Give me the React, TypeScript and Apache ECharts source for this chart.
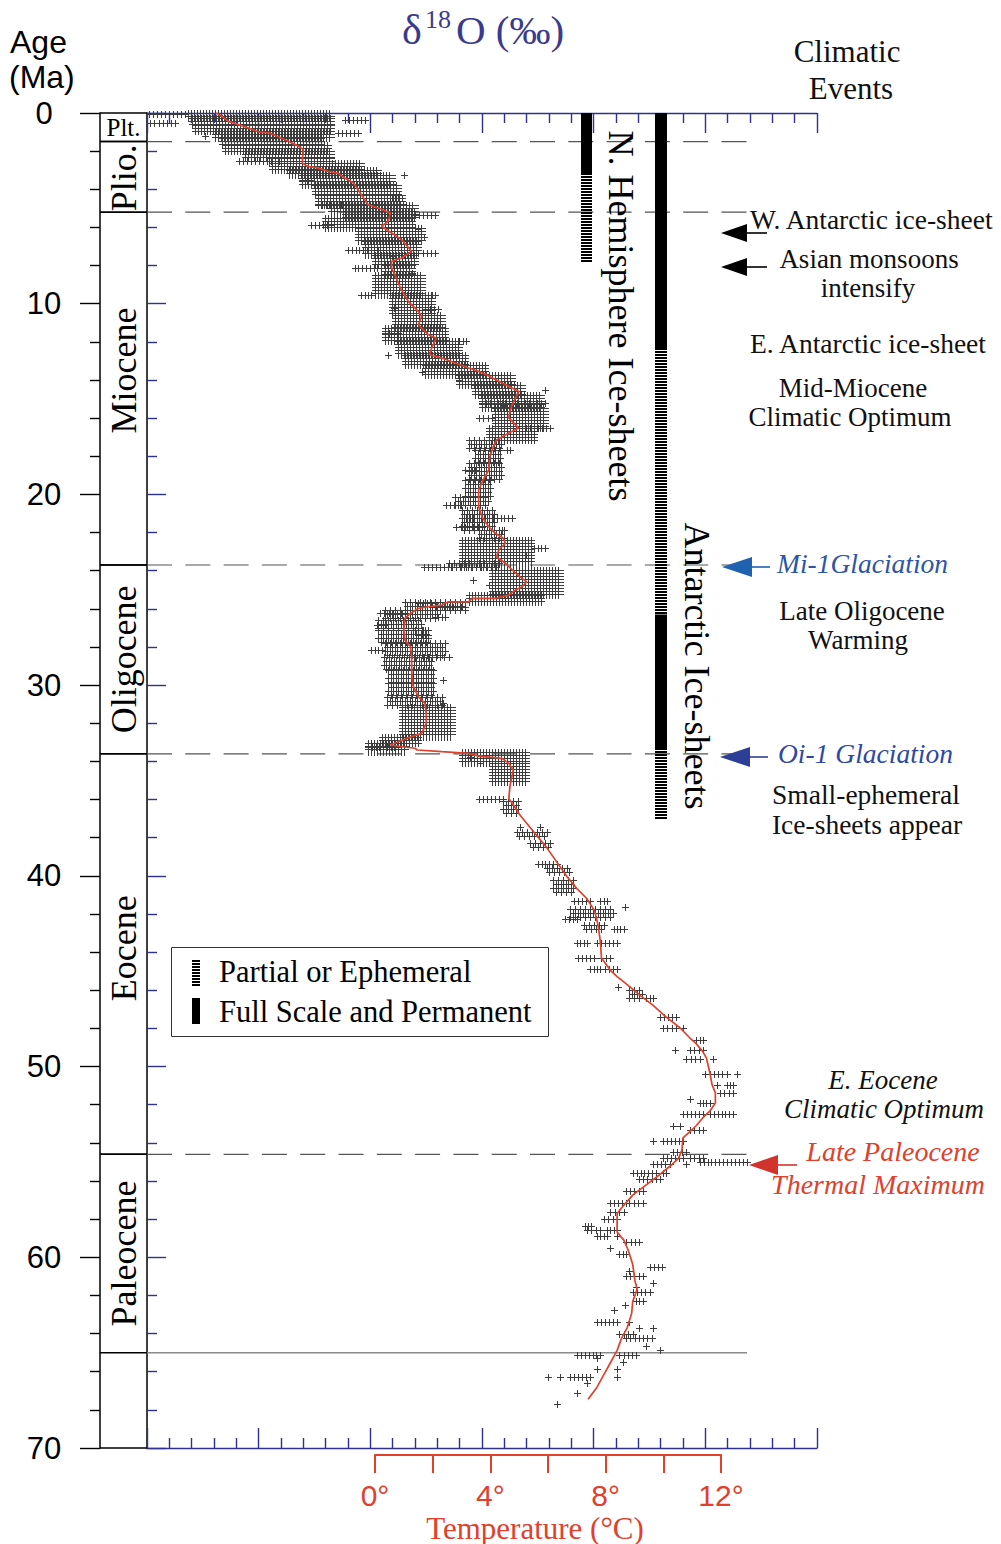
import React, { useEffect, useRef } from 'react';
import * as echarts from 'echarts';

// ---------------- data ----------------
const ageTickLabels = [0, 10, 20, 30, 40, 50, 60, 70];
const tempTickLabels = [0, 4, 8, 12];

const epochNames = ['Plt.', 'Plio.', 'Miocene', 'Oligocene', 'Eocene', 'Paleocene'];
const epochBounds = [0, 1.5, 5.2, 23.7, 33.6, 54.6, 65];
const epochLabelAt = [0.75, 3.4, 13.5, 28.65, 43.8, 59.8];

// smoothed (red) curve: [age Ma, d18O permil]
const smoothCurve: number[][] = [
  [0.0, 4.38], [0.09, 4.35], [0.44, 4.27], [0.61, 4.18], [0.79, 4.09], [1.0, 4.0], [1.05, 3.9], [1.28, 3.81],
  [1.49, 3.73], [1.75, 3.64], [1.92, 3.6], [2.62, 3.61], [2.8, 3.56], [2.88, 3.47], [3.06, 3.38], [3.15, 3.29],
  [3.41, 3.23], [3.67, 3.15], [4.02, 3.11], [4.46, 3.06], [4.81, 3.02], [4.98, 2.93], [5.24, 2.82], [5.68, 2.84],
  [5.94, 2.9], [6.29, 2.81], [6.64, 2.72], [7.25, 2.63], [7.6, 2.72], [7.78, 2.81], [8.13, 2.81], [8.48, 2.78],
  [9.18, 2.73], [9.88, 2.66], [10.4, 2.57], [10.66, 2.54], [11.1, 2.57], [11.63, 2.48], [11.8, 2.41], [12.32, 2.45],
  [12.67, 2.47], [12.85, 2.36], [13.11, 2.24], [13.37, 2.12], [13.55, 2.03], [13.72, 1.96], [14.07, 1.85], [14.42, 1.73],
  [14.6, 1.67], [15.3, 1.73], [15.64, 1.75], [15.99, 1.76], [16.52, 1.67], [16.78, 1.76], [17.15, 1.87], [17.5, 1.9],
  [18.02, 1.93], [18.72, 1.94], [19.25, 1.99], [19.77, 2.03], [20.64, 2.03], [21.17, 2.0], [21.69, 1.94], [22.04, 1.88],
  [22.3, 1.81], [22.56, 1.79], [22.92, 1.85], [23.27, 1.87], [23.61, 1.79], [23.96, 1.73], [24.32, 1.66], [24.58, 1.6],
  [24.84, 1.64], [25.01, 1.7], [25.28, 1.76], [25.45, 1.88], [25.45, 2.09], [25.63, 2.12], [25.63, 2.3], [25.8, 2.36],
  [25.89, 2.48], [25.97, 2.57], [26.24, 2.64], [26.5, 2.69], [27.11, 2.7], [27.64, 2.69], [27.99, 2.64], [28.51, 2.63],
  [29.21, 2.63], [30.0, 2.62], [30.61, 2.57], [30.96, 2.51], [31.48, 2.5], [32.0, 2.5], [32.53, 2.54], [32.7, 2.63],
  [32.97, 2.75], [33.14, 2.82], [33.23, 2.72], [33.31, 2.6], [33.4, 2.58], [33.49, 2.36], [33.58, 2.12], [33.72, 2.03],
  [33.84, 1.82], [34.1, 1.76], [34.45, 1.72], [35.31, 1.75], [35.95, 1.76], [36.27, 1.72], [36.81, 1.66], [37.24, 1.6],
  [37.88, 1.51], [38.52, 1.42], [39.28, 1.33], [40.03, 1.24], [40.67, 1.15], [41.2, 1.06], [41.85, 0.99], [42.6, 0.96],
  [43.45, 0.94], [44.31, 0.93], [44.95, 0.85], [45.28, 0.79], [45.7, 0.7], [46.24, 0.59], [46.78, 0.47], [47.41, 0.35],
  [47.95, 0.23], [48.49, 0.14], [48.81, 0.08], [49.24, 0.02], [49.56, -0.01], [50.31, -0.04], [50.95, -0.06], [51.38, -0.09],
  [51.91, -0.09], [52.34, -0.04], [52.67, 0.02], [53.09, 0.08], [53.42, 0.14], [53.74, 0.2], [54.38, 0.21], [54.81, 0.24],
  [55.24, 0.32], [55.67, 0.41], [56.2, 0.53], [56.74, 0.65], [57.27, 0.73], [57.7, 0.79], [58.67, 0.79], [59.1, 0.73],
  [59.63, 0.69], [60.38, 0.65], [61.24, 0.63], [61.67, 0.61], [62.31, 0.65], [62.95, 0.66], [63.7, 0.7], [64.24, 0.75],
  [64.88, 0.79], [65.53, 0.85], [66.17, 0.91], [66.81, 0.97], [67.45, 1.05],
];

// densely sampled parts of the cloud: [age top, age bottom, d18O left, d18O right]
const denseRows: number[][] = [
  [0.0, 0.26, 4.63, 3.35], [0.26, 0.61, 4.6, 3.35], [0.61, 0.96, 4.57, 3.35], [0.96, 1.31, 4.39, 3.35],
  [1.31, 1.66, 4.33, 3.44], [1.66, 2.01, 4.3, 3.38], [2.01, 2.36, 4.12, 3.35], [2.36, 2.62, 3.91, 3.35],
  [2.62, 2.97, 3.88, 3.08], [2.97, 3.23, 3.73, 2.93], [3.23, 3.76, 3.61, 2.81], [3.76, 4.28, 3.5, 2.75],
  [4.28, 4.81, 3.47, 2.72], [4.81, 5.16, 3.35, 2.6], [5.16, 5.51, 3.23, 2.6], [5.51, 6.03, 3.41, 2.63],
  [6.03, 6.73, 3.11, 2.54], [6.73, 7.43, 3.05, 2.57], [7.43, 7.96, 2.96, 2.6], [7.96, 8.48, 2.87, 2.63],
  [8.48, 9.53, 2.96, 2.54], [9.53, 10.58, 2.81, 2.45], [10.58, 11.28, 2.78, 2.36], [11.28, 11.98, 2.87, 2.33],
  [11.98, 12.67, 2.75, 2.21], [12.67, 13.2, 2.69, 2.15], [13.2, 13.72, 2.51, 1.97], [13.72, 14.25, 2.21, 1.73],
  [14.25, 14.77, 2.06, 1.64], [14.77, 15.47, 2.0, 1.47], [15.47, 16.52, 1.88, 1.44], [16.52, 17.15, 1.94, 1.53],
  [22.39, 23.61, 2.18, 1.56], [23.96, 25.27, 1.91, 1.3], [25.27, 25.62, 2.12, 1.47],
  [31.13, 32.7, 2.72, 2.27], [32.7, 33.05, 2.9, 2.57], [33.05, 33.49, 3.02, 2.69],
  [33.49, 34.1, 2.18, 1.61], [34.1, 35.1, 1.91, 1.61],
];

// thinner parts of the cloud: [age top, age bottom, d18O left, d18O right]
const sparseRows: number[][] = [
  [17.15, 17.67, 2.12, 1.82], [17.67, 18.37, 2.06, 1.82], [18.37, 19.25, 2.12, 1.81], [19.25, 20.12, 2.15, 1.91],
  [20.12, 20.73, 2.24, 1.94], [20.82, 21.87, 2.18, 1.88], [21.87, 22.39, 2.03, 1.79], [23.61, 23.96, 2.3, 1.85],
  [25.62, 26.06, 2.69, 2.15], [26.06, 26.59, 2.87, 2.39], [26.59, 27.11, 2.93, 2.54], [27.11, 27.81, 2.93, 2.48],
  [27.81, 28.51, 2.87, 2.33], [28.51, 29.21, 2.88, 2.45], [29.21, 29.9, 2.84, 2.42], [29.9, 30.6, 2.84, 2.42],
  [30.6, 31.13, 2.85, 2.35],
  [36.1, 36.8, 1.81, 1.66], [37.7, 38.1, 1.69, 1.42], [38.3, 38.7, 1.57, 1.39], [39.6, 40.0, 1.42, 1.21],
  [40.2, 40.9, 1.36, 1.18], [41.74, 42.17, 1.21, 0.82], [42.6, 43.0, 1.09, 0.91], [46.0, 46.6, 0.68, 0.56],
];

// single rows of samples / isolated samples: [age, d18O left, d18O right]
const streaks: number[][] = [
  [0.05, 4.98, 4.66], [0.35, 3.23, 3.05], [0.55, 4.97, 4.75], [1.05, 3.29, 3.11], [1.2, 4.48, 4.48],
  [2.53, 4.18, 3.82], [3.23, 2.7, 2.7], [3.5, 3.61, 3.53], [4.46, 2.81, 2.72], [4.81, 3.47, 3.23],
  [5.33, 2.6, 2.42], [5.86, 3.53, 3.35], [6.1, 2.57, 2.57], [6.5, 2.57, 2.52], [7.17, 3.2, 2.93],
  [7.34, 2.57, 2.42], [7.5, 2.81, 2.81], [8.13, 3.14, 2.87], [8.4, 2.63, 2.63], [9.53, 3.08, 2.99],
  [9.53, 2.51, 2.42], [10.2, 2.79, 2.79], [10.3, 2.51, 2.39], [11.54, 2.87, 2.75], [11.97, 2.24, 2.14],
  [12.67, 2.84, 2.84], [12.67, 2.27, 2.21], [13.6, 2.54, 2.54], [14.0, 2.21, 2.21], [14.5, 1.44, 1.44],
  [15.2, 2.0, 1.44], [16.0, 2.03, 1.91], [16.5, 1.61, 1.39],
  [17.67, 1.78, 1.75], [18.72, 2.15, 2.06], [20.55, 2.32, 2.15], [21.25, 2.18, 1.73], [21.69, 2.23, 2.0],
  [21.87, 1.82, 1.82], [22.83, 1.53, 1.44], [23.18, 1.7, 1.61], [23.79, 2.52, 1.88], [24.49, 2.08, 2.08],
  [24.75, 1.94, 1.94], [25.71, 2.57, 2.42], [25.89, 2.45, 2.15], [26.24, 2.91, 2.69], [26.41, 2.42, 2.33],
  [26.85, 2.94, 2.87], [27.11, 2.6, 2.51], [27.37, 2.57, 2.48], [28.16, 2.99, 2.9], [28.51, 2.6, 2.3],
  [29.73, 2.35, 2.35], [30.95, 2.35, 2.35], [33.23, 3.02, 2.75], [33.75, 2.11, 2.11], [34.1, 2.02, 2.02],
  [35.95, 2.03, 1.81], [37.45, 1.66, 1.66], [37.45, 1.48, 1.48], [39.38, 1.5, 1.33], [41.3, 1.18, 1.03],
  [41.3, 0.94, 0.88], [41.63, 0.72, 0.72], [42.27, 1.26, 1.15], [42.8, 0.82, 0.73], [43.5, 1.15, 1.06],
  [43.5, 0.97, 0.79], [44.3, 1.14, 1.0], [44.3, 0.93, 0.85], [44.9, 1.03, 0.97], [44.9, 0.94, 0.79],
  [45.81, 0.78, 0.78], [46.4, 0.53, 0.47], [47.4, 0.41, 0.26], [48.0, 0.38, 0.26], [48.0, 0.2, 0.2],
  [48.6, 0.08, 0.02], [49.13, 0.27, 0.27], [49.13, 0.14, 0.02], [49.6, 0.17, 0.05], [49.6, -0.07, -0.07],
  [50.4, 0.0, -0.19], [50.4, -0.28, -0.28], [50.95, -0.1, -0.1], [50.95, -0.19, -0.25], [51.38, -0.13, -0.25],
  [51.7, 0.14, 0.14], [51.9, 0.05, -0.04], [52.5, 0.2, 0.02], [52.5, -0.04, -0.25], [53.1, 0.29, 0.29],
  [53.1, 0.23, 0.23], [53.3, 0.14, 0.02], [53.9, 0.47, 0.47], [53.9, 0.38, 0.2], [54.5, 0.29, 0.17],
  [54.8, 0.38, 0.2], [54.8, 0.14, 0.02], [55.02, 0.05, -0.37], [55.1, 0.47, 0.32], [55.1, 0.17, 0.17],
  [55.56, 0.65, 0.44], [55.56, 0.38, 0.35], [55.9, 0.59, 0.41], [56.5, 0.71, 0.56], [57.17, 0.85, 0.71],
  [57.17, 0.68, 0.56], [57.6, 0.85, 0.73], [58.0, 0.91, 0.79], [58.35, 1.08, 1.02], [58.56, 1.06, 0.94],
  [58.56, 0.88, 0.79], [58.9, 0.97, 0.88], [58.9, 0.79, 0.79], [59.2, 0.71, 0.59], [59.5, 0.85, 0.85],
  [59.85, 0.77, 0.71], [60.5, 0.5, 0.39], [60.7, 0.68, 0.68], [61.0, 0.71, 0.56], [61.35, 0.47, 0.47],
  [61.56, 0.62, 0.62], [61.8, 0.65, 0.5], [62.3, 0.62, 0.56], [62.5, 0.72, 0.72], [62.74, 0.82, 0.82],
  [63.4, 0.97, 0.79], [63.4, 0.68, 0.68], [63.7, 0.59, 0.59], [63.7, 0.47, 0.47], [64.0, 0.77, 0.65],
  [64.24, 0.71, 0.48], [64.67, 0.53, 0.53], [64.84, 0.41, 0.41], [65.1, 0.77, 0.62], [65.1, 1.15, 0.94],
  [65.3, 0.97, 0.97], [65.5, 0.74, 0.74], [65.85, 0.97, 0.97], [65.85, 0.79, 0.79], [66.3, 1.41, 1.41],
  [66.3, 1.3, 1.3], [66.3, 1.21, 1.03], [66.3, 0.79, 0.79], [66.6, 1.06, 1.06], [67.1, 1.15, 1.15],
  [67.67, 1.33, 1.33],
];

// ice-sheet bars: [lane (0 = N. Hemisphere, 1 = Antarctic), from Ma, to Ma, kind (0 full, 1 partial)]
const nhIce: number[][] = [[0, 0, 3.25, 0], [0, 3.25, 7.8, 1]];
const antIce: number[][] = [[1, 0, 12.43, 0], [1, 12.43, 26.3, 1], [1, 26.3, 33.4, 0], [1, 33.4, 37.0, 1]];

// ---------------- layout / style ----------------
const SERIF = '"Liberation Serif", "Times New Roman", Times, serif';
const SANS = '"Liberation Sans", Arial, Helvetica, sans-serif';
const NAVY = '#2e3192';
const TITLE_C = '#3b3b8e';
const RED = '#e0402c';
const CROSS_C = '#3c3c3c';
const GRID_L = 147, GRID_T = 113, GRID_W = 670, GRID_H = 1335;
const COL_L = 100;
const LINE_END = 747;
const ICE_LANES = [{ x: 581, w: 11 }, { x: 655, w: 12 }];
const ARM = 3.5;

const snap = (v: number) => Math.round(v) + 0.5;
const crossD = (x: number, y: number) => {
  const sx = snap(x), sy = snap(y);
  return `M${sx - ARM} ${sy}H${sx + ARM}M${sx} ${sy - ARM}V${sy + ARM}`;
};

function renderDense(_p: any, api: any) {
  const a0 = api.value(0), a1 = api.value(1), dl = api.value(2), dr = api.value(3);
  const p0 = api.coord([dl, a0]), p1 = api.coord([dr, a1]);
  const xl = Math.min(p0[0], p1[0]), xr = Math.max(p0[0], p1[0]);
  const y0 = Math.min(p0[1], p1[1]), y1 = Math.max(p0[1], p1[1]);
  let d = '';
  for (let y = y0; y <= y1 + 0.01; y += 3) d += `M${snap(xl) - ARM} ${snap(y)}H${snap(xr) + ARM}`;
  for (let x = xl; x <= xr + 0.01; x += 3) d += `M${snap(x)} ${snap(y0) - ARM}V${snap(y1) + ARM}`;
  return { type: 'path', shape: { pathData: d }, style: { fill: 'none', stroke: CROSS_C, lineWidth: 1 } };
}

function renderSparse(_p: any, api: any) {
  const a0 = api.value(0), a1 = api.value(1), dl = api.value(2), dr = api.value(3);
  const p0 = api.coord([dl, a0]), p1 = api.coord([dr, a1]);
  const xl = Math.min(p0[0], p1[0]), xr = Math.max(p0[0], p1[0]);
  const y0 = Math.min(p0[1], p1[1]), y1 = Math.max(p0[1], p1[1]);
  let d = '';
  let r = 0;
  for (let y = y0; y <= y1 + 0.01; y += 4, r++) {
    for (let x = xl + (r % 2) * 2.5; x <= xr + 0.01; x += 5) d += crossD(x, y);
  }
  return { type: 'path', shape: { pathData: d }, style: { fill: 'none', stroke: CROSS_C, lineWidth: 1 } };
}

function renderStreak(_p: any, api: any) {
  const a = api.value(0), dl = api.value(1), dr = api.value(2);
  const p0 = api.coord([dl, a]), p1 = api.coord([dr, a]);
  const xl = Math.min(p0[0], p1[0]), xr = Math.max(p0[0], p1[0]);
  let d = '';
  const n = Math.max(1, Math.round((xr - xl) / 4) + 1);
  for (let i = 0; i < n; i++) d += crossD(n === 1 ? xl : xl + ((xr - xl) * i) / (n - 1), p0[1]);
  return { type: 'path', shape: { pathData: d }, style: { fill: 'none', stroke: CROSS_C, lineWidth: 1 } };
}

function renderIce(_p: any, api: any) {
  const lane = api.value(0), a0 = api.value(1), a1 = api.value(2), kind = api.value(3);
  const y0 = api.coord([0, a0])[1], y1 = api.coord([0, a1])[1];
  const L = ICE_LANES[lane];
  if (kind === 0) {
    return { type: 'rect', shape: { x: L.x, y: y0, width: L.w, height: y1 - y0 }, style: { fill: '#000' } };
  }
  let d = '';
  for (let y = Math.round(y0) + 1; y < y1; y += 3) d += `M${L.x} ${y}h${L.w}v2h${-L.w}Z`;
  return { type: 'path', shape: { pathData: d }, style: { fill: '#000', stroke: 'none' } };
}

function renderEpoch(_p: any, api: any) {
  const i = api.value(3);
  const yS = api.coord([5, api.value(0)])[1];
  const yE = api.coord([5, api.value(1)])[1];
  const yL = api.coord([5, api.value(2)])[1];
  const name = epochNames[i];
  const children: any[] = [
    { type: 'line', shape: { x1: COL_L, y1: yS, x2: GRID_L, y2: yS }, style: { stroke: '#000', lineWidth: 1.5 } },
    { type: 'line', shape: { x1: COL_L, y1: yE, x2: GRID_L, y2: yE }, style: { stroke: '#000', lineWidth: 1.5 } },
    {
      type: 'text', x: (COL_L + GRID_L) / 2, y: yL, rotation: name === 'Plt.' ? 0 : Math.PI / 2,
      style: { text: name, x: 0, y: 0, fill: '#000', fontSize: name === 'Plt.' ? 25 : 36, fontFamily: SERIF, align: 'center', verticalAlign: 'middle' },
    },
  ];
  if (i === epochNames.length - 1) {
    const yB = api.coord([5, 70])[1];
    children.push({ type: 'line', shape: { x1: COL_L, y1: yB, x2: GRID_L, y2: yB }, style: { stroke: '#000', lineWidth: 1.5 } });
  }
  return { type: 'group', children };
}

function renderBoundary(_p: any, api: any) {
  const age = api.value(0), solid = api.value(1);
  const y = api.coord([5, age])[1];
  return {
    type: 'line', shape: { x1: GRID_L, y1: y, x2: LINE_END, y2: y },
    style: solid ? { stroke: '#8a8a8a', lineWidth: 1.5 } : { stroke: '#555', lineWidth: 1.2, lineDash: [25, 13.3] },
  };
}

const txt = (text: string, x: number, y: number, size: number, o: any = {}) => ({
  type: 'text', x, y, rotation: o.rot || 0, z: 20, silent: true,
  style: {
    text, x: 0, y: 0, fill: o.color || '#111', fontSize: size, fontFamily: o.font || SERIF,
    fontStyle: o.italic ? 'italic' : 'normal', align: o.align || 'center', verticalAlign: 'middle',
  },
});

const arrow = (tipX: number, y: number, baseX: number, half: number, lineEnd: number, color: string) => [
  { type: 'polygon', z: 20, shape: { points: [[tipX, y], [baseX, y - half], [baseX, y + half]] }, style: { fill: color } },
  { type: 'line', z: 20, shape: { x1: baseX - 3, y1: y, x2: lineEnd, y2: y }, style: { stroke: color, lineWidth: 1.6 } },
];

function buildGraphic() {
  const g: any[] = [];
  // title
  g.push(txt('δ', 402, 30, 42, { color: TITLE_C, align: 'left' }));
  g.push(txt('18', 425, 19, 26, { color: TITLE_C, align: 'left' }));
  g.push(txt('O (‰)', 456, 30, 41, { color: TITLE_C, align: 'left' }));
  // age axis title
  g.push(txt('Age', 10, 42, 32, { font: SANS, align: 'left', color: '#000' }));
  g.push(txt('(Ma)', 9, 77, 32, { font: SANS, align: 'left', color: '#000' }));
  // climatic events header
  g.push(txt('Climatic', 847, 51, 31));
  g.push(txt('Events', 851, 88, 31));
  // ice-sheet labels
  g.push(txt('N. Hemisphere Ice-sheets', 621, 316, 36, { rot: -Math.PI / 2, color: '#000' }));
  g.push(txt('Antarctic Ice-sheets', 697, 666, 36, { rot: -Math.PI / 2, color: '#000' }));
  // events
  g.push(txt('W. Antarctic ice-sheet', 750, 219, 27.5, { align: 'left' }));
  g.push(...arrow(721, 233, 747, 9, 767, '#000'));
  g.push(txt('Asian monsoons', 869, 259, 27));
  g.push(txt('intensify', 868, 288, 27));
  g.push(...arrow(721, 267, 747, 9, 767, '#000'));
  g.push(txt('E. Antarctic ice-sheet', 868, 343, 27.5));
  g.push(txt('Mid-Miocene', 853, 388, 27));
  g.push(txt('Climatic Optimum', 850, 417, 27));
  g.push(txt('Mi-1Glaciation', 777, 563, 27.5, { italic: true, align: 'left', color: '#2d55a5' }));
  g.push(...arrow(722, 567, 752, 10, 770, '#1f62b0'));
  g.push(txt('Late Oligocene', 862, 611, 27));
  g.push(txt('Warming', 858, 640, 27));
  g.push(txt('Oi-1 Glaciation', 778, 753, 27.5, { italic: true, align: 'left', color: '#2f47a2' }));
  g.push(...arrow(720, 757, 750, 10, 768, '#2c3e96'));
  g.push(txt('Small-ephemeral', 866, 794, 27.5));
  g.push(txt('Ice-sheets appear', 867, 824, 27.5));
  g.push(txt('E. Eocene', 883, 1080, 27, { italic: true }));
  g.push(txt('Climatic Optimum', 884, 1109, 27, { italic: true }));
  g.push(txt('Late Paleocene', 893, 1151, 28, { italic: true, color: RED }));
  g.push(txt('Thermal Maximum', 878, 1184, 28, { italic: true, color: RED }));
  g.push(...arrow(749, 1165, 778, 10, 797, '#d2342b'));
  // legend
  g.push({ type: 'rect', z: 20, shape: { x: 171.5, y: 947.5, width: 377, height: 89 }, style: { fill: '#fff', stroke: '#333', lineWidth: 1 } });
  for (let y = 960; y < 985; y += 3) g.push({ type: 'rect', z: 21, shape: { x: 192, y, width: 8, height: 2 }, style: { fill: '#000' } });
  g.push({ type: 'rect', z: 21, shape: { x: 192, y: 998, width: 8, height: 26 }, style: { fill: '#000' } });
  g.push(txt('Partial or Ephemeral', 219, 972, 30.5, { align: 'left', color: '#000' }));
  g.push(txt('Full Scale and Permanent', 219, 1012, 30.5, { align: 'left', color: '#000' }));
  // temperature axis title
  g.push(txt('Temperature (°C)', 535, 1528, 31, { color: RED }));
  return g;
}

function buildOption() {
  const epochData = epochNames.map((_, i) => [epochBounds[i], epochBounds[i + 1], epochLabelAt[i], i]);
  const boundaryData = epochBounds.slice(1).map((a, i, arr) => [a, i === arr.length - 1 ? 1 : 0]);
  const xAxisBase = (position: string) => ({
    type: 'value', gridIndex: 0, position, inverse: true, min: -1, max: 5, interval: 1,
    axisLine: { show: true, onZero: false, lineStyle: { color: NAVY, width: 1.4 } },
    axisTick: { show: true, inside: true, length: 20, lineStyle: { color: NAVY, width: 1.4 } },
    minorTick: { show: true, splitNumber: 5, length: 10, lineStyle: { color: NAVY, width: 1.4 } },
    axisLabel: { show: false }, splitLine: { show: false }, minorSplitLine: { show: false },
  });
  return {
    animation: false,
    backgroundColor: '#fff',
    grid: [
      { left: GRID_L, top: GRID_T, width: GRID_W, height: GRID_H },
      { left: 375, top: 1405, width: 346, height: 50 },
    ],
    xAxis: [
      xAxisBase('top'),
      xAxisBase('bottom'),
      {
        type: 'value', gridIndex: 1, position: 'bottom', min: 0, max: 12, interval: 2,
        axisLine: { show: true, onZero: false, lineStyle: { color: RED, width: 2 } },
        axisTick: { show: true, inside: false, length: 18, lineStyle: { color: RED, width: 2 } },
        axisLabel: {
          show: true, margin: 25, color: RED, fontSize: 30, fontFamily: SANS,
          formatter: (v: number) => (tempTickLabels.indexOf(v) >= 0 ? `${v}°` : ''),
        },
        splitLine: { show: false },
      },
    ],
    yAxis: [
      {
        type: 'value', gridIndex: 0, position: 'left', offset: GRID_L - COL_L, inverse: true, min: 0, max: 70, interval: 10,
        axisLine: { show: true, onZero: false, lineStyle: { color: '#000', width: 1.5 } },
        axisTick: { show: true, inside: false, length: 20, lineStyle: { color: '#000', width: 1.4 } },
        minorTick: { show: true, splitNumber: 5, length: 10, lineStyle: { color: '#000', width: 1.4 } },
        axisLabel: {
          show: true, margin: 56, align: 'center', color: '#000', fontSize: 31, fontFamily: SANS,
          formatter: (v: number) => (ageTickLabels.indexOf(v) >= 0 ? String(v) : ''),
        },
        splitLine: { show: false },
      },
      {
        type: 'value', gridIndex: 0, position: 'left', offset: 0, inverse: true, min: 0, max: 70, interval: 10,
        axisLine: { show: true, onZero: false, lineStyle: { color: '#000', width: 1.5 } },
        axisTick: { show: true, inside: true, length: 19, lineStyle: { color: NAVY, width: 1.4 } },
        minorTick: { show: true, splitNumber: 5, length: 10, lineStyle: { color: NAVY, width: 1.4 } },
        axisLabel: { show: false }, splitLine: { show: false },
      },
      { type: 'value', gridIndex: 1, show: false, min: 0, max: 1 },
    ],
    series: [
      { type: 'custom', name: 'boundaries', xAxisIndex: 0, yAxisIndex: 1, z: 1, silent: true, renderItem: renderBoundary, data: boundaryData, encode: { y: 0 } },
      { type: 'custom', name: 'dense', xAxisIndex: 0, yAxisIndex: 1, z: 2, silent: true, renderItem: renderDense, data: denseRows, encode: { x: [2, 3], y: [0, 1] } },
      { type: 'custom', name: 'sparse', xAxisIndex: 0, yAxisIndex: 1, z: 2, silent: true, renderItem: renderSparse, data: sparseRows, encode: { x: [2, 3], y: [0, 1] } },
      { type: 'custom', name: 'streaks', xAxisIndex: 0, yAxisIndex: 1, z: 2, silent: true, renderItem: renderStreak, data: streaks, encode: { x: [1, 2], y: 0 } },
      {
        type: 'line', name: 'smoothed', xAxisIndex: 0, yAxisIndex: 1, z: 5, silent: true, showSymbol: false, symbol: 'none',
        lineStyle: { color: RED, width: 1.7 }, data: smoothCurve.map(([a, d]) => [d, a]),
      },
      { type: 'custom', name: 'ice', xAxisIndex: 0, yAxisIndex: 1, z: 4, silent: true, renderItem: renderIce, data: [...nhIce, ...antIce], encode: { y: [1, 2] } },
      { type: 'custom', name: 'epochs', xAxisIndex: 0, yAxisIndex: 1, z: 4, silent: true, renderItem: renderEpoch, data: epochData, encode: { y: [0, 1] } },
    ],
    graphic: buildGraphic(),
  };
}

export default function App() {
  const ref = useRef<HTMLDivElement>(null);
  useEffect(() => {
    const chart = echarts.init(ref.current!, undefined, { renderer: 'svg' });
    chart.setOption(buildOption() as any);
    return () => chart.dispose();
  }, []);
  return (
    <div
      ref={ref}
      style={{ position: 'fixed', left: 0, top: 0, width: 1001, height: 1544, background: '#fff' }}
    />
  );
}
